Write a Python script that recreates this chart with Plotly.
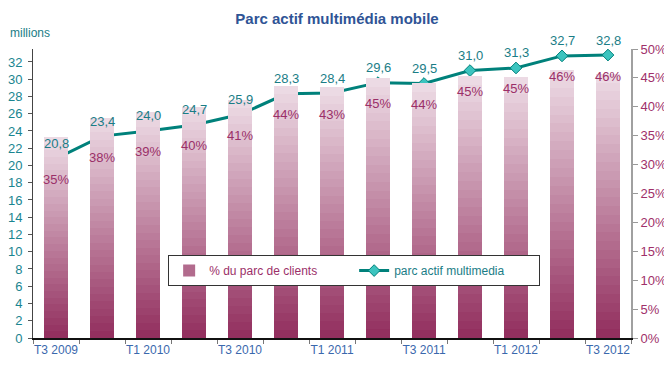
import plotly.graph_objects as go

categories = ["T3 2009", "T4 2009", "T1 2010", "T2 2010", "T3 2010", "T4 2010",
              "T1 2011", "T2 2011", "T3 2011", "T4 2011", "T1 2012", "T2 2012", "T3 2012"]
parc_actif = [20.8, 23.4, 24.0, 24.7, 25.9, 28.3, 28.4, 29.6, 29.5, 31.0, 31.3, 32.7, 32.8]
pct_clients = [34.8, 38.1, 39.1, 40.0, 41.2, 43.6, 43.4, 45.0, 44.1, 45.3, 45.2, 46.4, 45.7]
pct_labels = [35, 38, 39, 40, 41, 44, 43, 45, 44, 45, 45, 46, 46]
left_ticks = list(range(0, 33, 2))
right_ticks = list(range(0, 51, 5))

FONT = "Liberation Sans, Arial, sans-serif"
TEAL = "#00817b"
TEAL_TXT = "#1a7d86"
MAG_TXT = "#9b2f68"

x = list(range(len(categories)))

def lerp(c1, c2, t):
    a = [int(c1[i:i + 2], 16) for i in (1, 3, 5)]
    b = [int(c2[i:i + 2], 16) for i in (1, 3, 5)]
    return "rgb(%d,%d,%d)" % tuple(round(a[k] + (b[k] - a[k]) * t) for k in range(3))

fig = go.Figure()

K = 30
bottom, top = "#93305f", "#ecdae4"
for k in range(K):
    t = k / (K - 1)
    fig.add_trace(go.Bar(
        x=x, y=[v / K for v in pct_clients], yaxis="y2",
        marker=dict(color=lerp(bottom, top, t), line=dict(width=0)),
        width=0.52, showlegend=(k == 10), legendrank=1,
        name='<span style="color:%s">%% du parc de clients</span>' % MAG_TXT,
        hoverinfo="skip",
    ))

fig.add_trace(go.Scatter(
    x=x, y=parc_actif, yaxis="y", mode="lines+markers",
    line=dict(color=TEAL, width=3),
    marker=dict(symbol="diamond", size=9, color="#3cc4bf", line=dict(color=TEAL, width=1)),
    name='<span style="color:%s">parc actif multimedia</span>' % TEAL_TXT,
    legendrank=2,
))

annotations = []
for i, v in enumerate(parc_actif):
    annotations.append(dict(x=i, y=v, xref="x", yref="y", text=f"{v:.1f}".replace(".", ","),
                            showarrow=False, yshift=15,
                            font=dict(family=FONT, size=13, color=TEAL_TXT)))
    annotations.append(dict(x=i, y=v, xref="x", yref="y", text=f"{pct_labels[i]}%",
                            showarrow=False, yshift=-21,
                            font=dict(family=FONT, size=13, color=MAG_TXT)))
annotations.append(dict(x=-0.042, y=1.055, xref="paper", yref="paper", text="millions",
                        showarrow=False, xanchor="left", yanchor="middle",
                        font=dict(family=FONT, size=12, color=TEAL_TXT)))

fig.update_layout(
    width=664, height=358,
    margin=dict(l=25, r=41, t=41, b=28, autoexpand=False),
    paper_bgcolor="white", plot_bgcolor="white",
    barmode="stack", bargap=0.48,
    font=dict(family=FONT, size=12),
    title=dict(text="<b>Parc actif multimédia mobile</b>", x=0.4955, xanchor="center",
               y=0.969, yanchor="middle", font=dict(family=FONT, size=15, color="#2f5496")),
    xaxis=dict(range=[-0.5, 12.5], tickmode="array", tickvals=x[::2], ticktext=categories[::2],
               ticks="", showline=True, linecolor="#111", linewidth=1.5, showgrid=False,
               zeroline=False, tickfont=dict(family=FONT, size=12, color="#3a68ad"),
               minor=dict(tick0=-0.5, dtick=1, ticks="outside", ticklen=4, tickcolor="#777"),
               automargin=False, fixedrange=True),
    yaxis=dict(range=[0, 33.5], tickmode="array", tickvals=left_ticks, ticks="outside", ticklen=4,
               tickcolor="#555", showline=True, linecolor="#444", linewidth=1, showgrid=False,
               zeroline=False, automargin=False, ticklabelstandoff=3,
               tickfont=dict(family=FONT, size=13, color="#1a8590")),
    yaxis2=dict(range=[0, 50], overlaying="y", side="right", tickmode="array",
                tickvals=right_ticks, ticktext=[f"{t}%" for t in right_ticks],
                ticks="outside", ticklen=5, tickcolor="#999", showline=True, linecolor="#a0a0a0",
                linewidth=2, showgrid=False, zeroline=False, automargin=False,
                tickfont=dict(family=FONT, size=13, color="#a0306a")),
    legend=dict(orientation="h", x=0.226, y=0.287, xanchor="left", yanchor="top",
                bgcolor="white", bordercolor="#333", borderwidth=1, entrywidth=140,
                font=dict(family=FONT, size=12), traceorder="normal"),
    annotations=annotations,
    showlegend=True,
)

fig.write_html("out.html")
